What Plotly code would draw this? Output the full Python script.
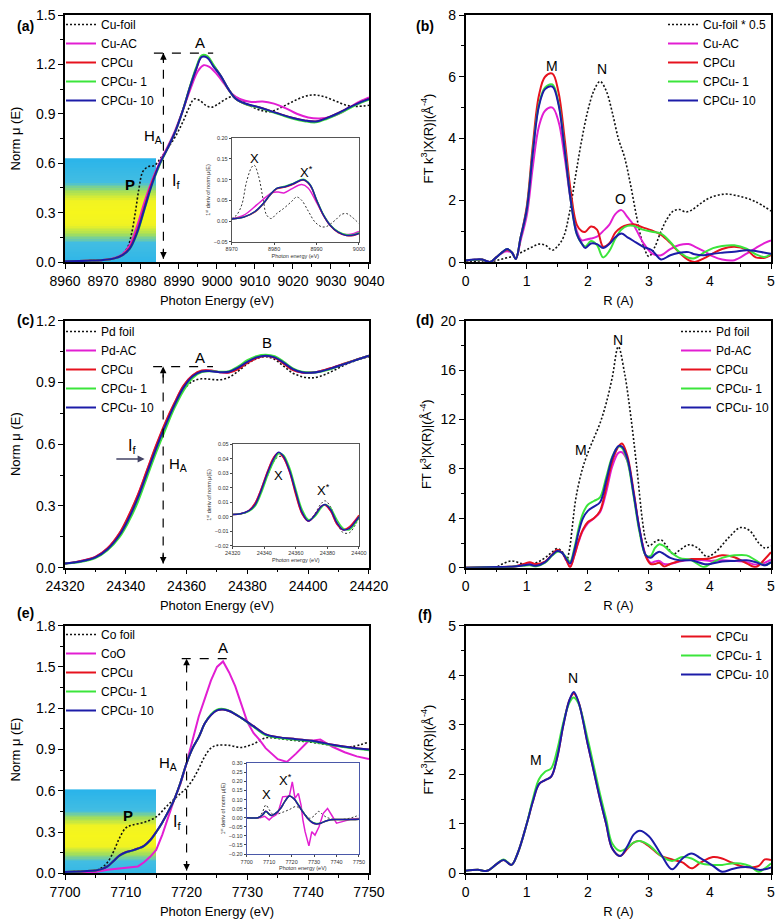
import numpy as np
import plotly.graph_objects as go

FONT = "Arial, 'Liberation Sans', Helvetica, sans-serif"
C_FOIL = "#111111"
C_MAG = "#E21ED2"
C_RED = "#E6121E"
C_GRN = "#3BE53B"
C_BLU = "#1C1CA8"
DOT = "2px,2px"

# ---------------- panel (a): Cu K-edge XANES ----------------
E_a_foil = [8960, 8966, 8970, 8973, 8975, 8976.5, 8977.5, 8978.5, 8979.5, 8980.5, 8982, 8983.5, 8985, 8987, 8989,
            8991, 8992.5, 8994, 8995.5, 8997, 8998.5, 9000, 9002, 9004, 9006, 9009, 9012, 9014, 9017, 9020,
            9023, 9025.5, 9028, 9031, 9034, 9037, 9040]
a_foil = [0.005, 0.008, 0.012, 0.025, 0.045, 0.09, 0.17, 0.3, 0.45, 0.55, 0.58, 0.585, 0.625, 0.69, 0.76,
          0.85, 0.93, 0.99, 0.98, 0.952, 0.94, 0.955, 0.985, 1.005, 0.99, 0.945, 0.918, 0.913, 0.94, 0.975,
          1.005, 1.015, 1.005, 0.98, 0.952, 0.945, 0.952]
E_a_ac = [8960, 8966, 8970, 8973, 8975, 8977, 8979, 8981, 8983, 8985, 8987, 8989, 8991, 8993, 8995, 8996.5,
          8998, 9000, 9002, 9004, 9006, 9009, 9012, 9015, 9018, 9021, 9024, 9027, 9030, 9033, 9036, 9038, 9040]
a_ac = [0.005, 0.008, 0.012, 0.025, 0.045, 0.1, 0.22, 0.37, 0.5, 0.61, 0.7, 0.8, 0.92, 1.05, 1.16, 1.195,
        1.185, 1.14, 1.08, 1.02, 0.99, 0.972, 0.975, 0.962, 0.935, 0.9, 0.878, 0.872, 0.882, 0.91, 0.955, 0.98, 1.0]
E_a = [8960, 8966, 8970, 8973, 8975, 8977, 8979, 8981, 8983, 8985, 8987, 8989, 8991, 8993, 8994.5, 8996,
       8997.5, 8999, 9001, 9003, 9005, 9008, 9011, 9014, 9017, 9020, 9023, 9026, 9029, 9032, 9035, 9038, 9040]
a_cpcu = [0.005, 0.008, 0.012, 0.022, 0.04, 0.085, 0.19, 0.34, 0.49, 0.6, 0.69, 0.79, 0.92, 1.07, 1.17, 1.25,
          1.245, 1.195, 1.13, 1.05, 0.99, 0.955, 0.94, 0.918, 0.895, 0.875, 0.86, 0.853, 0.875, 0.905, 0.94, 0.972, 0.99]
a_cpcu1 = [0.005, 0.008, 0.012, 0.022, 0.04, 0.078, 0.175, 0.325, 0.475, 0.595, 0.69, 0.79, 0.92, 1.075, 1.18,
           1.255, 1.25, 1.2, 1.13, 1.05, 0.99, 0.955, 0.938, 0.915, 0.892, 0.87, 0.855, 0.848, 0.87, 0.9, 0.935, 0.968, 0.985]
a_cpcu10 = [0.005, 0.008, 0.012, 0.022, 0.04, 0.08, 0.18, 0.33, 0.48, 0.6, 0.69, 0.79, 0.92, 1.07, 1.17, 1.245,
            1.24, 1.19, 1.13, 1.05, 0.99, 0.958, 0.94, 0.918, 0.895, 0.875, 0.86, 0.853, 0.875, 0.905, 0.94, 0.972, 0.99]

# inset (a): first derivative
E_ia_foil = [8970, 8971.2, 8972.4, 8973.5, 8974.7, 8975.3, 8976.3, 8977.5, 8978.2, 8979.3, 8980.6, 8982.2,
             8984.1, 8985.3, 8986.5, 8988.1, 8989.6, 8991.2, 8992.4, 8994.4, 8995.9, 8997.1, 8998.3, 9000]
ia_foil = [0.006, 0.015, 0.04, 0.095, 0.13, 0.135, 0.11, 0.047, 0.015, 0.006, 0.018, 0.03, 0.047, 0.058, 0.05,
           0.023, -0.002, -0.014, -0.013, 0.002, 0.016, 0.018, 0.01, -0.006]
E_ia_ac = [8970, 8973, 8975.9, 8978.2, 8979.6, 8981, 8982.3, 8984, 8986.5, 8988, 8990, 8992, 8994, 8996, 8998, 9000]
ia_ac = [0.005, 0.015, 0.039, 0.059, 0.069, 0.07, 0.068, 0.077, 0.088, 0.08, 0.045, 0.008, -0.018, -0.031, -0.032, -0.025]
E_ia = [8970, 8973, 8975.5, 8977.5, 8979, 8980.6, 8982.6, 8984.5, 8986.9, 8988.5, 8990, 8991.6, 8993.2, 8995.1,
        8997.1, 8998.7, 9000]
ia_cpcu = [0.005, 0.01, 0.022, 0.042, 0.062, 0.078, 0.082, 0.089, 0.099, 0.086, 0.05, 0.014, -0.011, -0.028, -0.035, -0.035, -0.03]
ia_cpcu1 = [0.005, 0.01, 0.023, 0.043, 0.063, 0.079, 0.084, 0.091, 0.101, 0.088, 0.052, 0.016, -0.009, -0.026, -0.033, -0.033, -0.028]
ia_cpcu10 = [0.005, 0.01, 0.023, 0.043, 0.063, 0.079, 0.083, 0.09, 0.1, 0.087, 0.051, 0.015, -0.01, -0.027, -0.035, -0.034, -0.03]

# ---------------- panel (b): Cu FT-EXAFS ----------------
R_b_foil = [0, 0.2, 0.3, 0.4, 0.5, 0.6, 0.7, 0.8, 0.9, 1.0, 1.1, 1.2, 1.3, 1.42, 1.5, 1.6, 1.7, 1.8, 1.9, 2.0,
            2.1, 2.2, 2.3, 2.4, 2.5, 2.6, 2.7, 2.8, 2.9, 3.0, 3.1, 3.2, 3.3, 3.4, 3.5, 3.6, 3.7, 3.85, 4.0, 4.25,
            4.5, 4.75, 5.0]
b_foil = [0.02, 0.03, 0.03, 0.0, 0.05, 0.1, 0.15, 0.2, 0.3, 0.4, 0.5, 0.58, 0.55, 0.38, 0.5, 0.8, 1.6, 2.8, 3.95, 4.9,
          5.55, 5.85, 5.55, 4.85, 4.0, 3.4, 2.5, 1.46, 0.6, 0.18, 0.5, 1.0, 1.4, 1.65, 1.7, 1.62, 1.68, 1.9, 2.08, 2.2,
          2.12, 1.95, 1.65]
R_b = [0, 0.15, 0.27, 0.4, 0.5, 0.6, 0.68, 0.76, 0.82, 0.9, 1.0, 1.1, 1.2, 1.3, 1.42, 1.52, 1.62, 1.72, 1.82, 1.9,
       1.96, 2.05, 2.15, 2.25, 2.35, 2.45, 2.55, 2.65, 2.75, 2.9, 3.05, 3.2, 3.35, 3.5, 3.65, 3.75, 3.9, 4.05, 4.2,
       4.4, 4.6, 4.75, 4.9, 5.0]
b_ac = [0.05, 0.07, 0.08, 0.0, 0.15, 0.3, 0.35, 0.3, 0.1, 0.7, 1.5, 3.1, 4.4, 4.9, 5.0, 4.55, 3.4, 2.0, 1.0,
        0.7, 0.72, 0.76, 0.82, 1.0, 1.2, 1.55, 1.68, 1.45, 1.2, 0.65, 0.28, 0.22, 0.42, 0.55, 0.58, 0.5, 0.35, 0.18,
        0.08, 0.06, 0.27, 0.45, 0.62, 0.7]
b_cpcu = [0.05, 0.07, 0.08, 0.0, 0.15, 0.32, 0.4, 0.3, 0.1, 0.8, 1.8, 3.8, 5.4, 6.0, 6.1, 5.5, 4.0, 2.3, 1.2,
          1.0, 0.98, 1.15, 1.05, 0.5, 0.6, 0.95, 1.12, 1.2, 1.22, 1.12, 1.02, 0.88, 0.62, 0.3, 0.06, 0.0, 0.12, 0.28,
          0.42, 0.49, 0.4, 0.15, 0.14, 0.22]
b_cpcu1 = [0.05, 0.07, 0.08, 0.0, 0.15, 0.32, 0.42, 0.3, 0.1, 0.8, 1.7, 3.6, 5.1, 5.65, 5.75, 5.15, 3.7, 2.0, 0.9,
           0.6, 0.5, 0.68, 0.55, 0.15, 0.35, 0.75, 1.05, 1.17, 1.17, 1.05, 0.98, 0.92, 0.65, 0.32, 0.14, 0.12, 0.3,
           0.45, 0.52, 0.54, 0.43, 0.25, 0.16, 0.27]
b_cpcu10 = [0.05, 0.08, 0.08, 0.0, 0.15, 0.32, 0.42, 0.3, 0.1, 0.8, 1.7, 3.55, 5.05, 5.6, 5.68, 5.1, 3.65, 2.0, 0.9,
            0.6, 0.45, 0.6, 0.58, 0.45, 0.58, 0.8, 0.92, 0.8, 0.68, 0.5, 0.38, 0.08, 0.22, 0.3, 0.32, 0.25, 0.22,
            0.27, 0.3, 0.33, 0.38, 0.36, 0.3, 0.27]

# ---------------- panel (c): Pd K-edge XANES ----------------
E_c = [24320, 24325, 24330, 24334, 24338, 24341, 24344, 24347, 24350, 24353, 24356, 24359, 24362, 24365, 24368,
       24371, 24374, 24377, 24380, 24383, 24386, 24389, 24392, 24395, 24398, 24401, 24404, 24408, 24412, 24416, 24420]
c_foil = [0.02, 0.03, 0.05, 0.09, 0.16, 0.24, 0.34, 0.46, 0.58, 0.69, 0.79, 0.865, 0.905, 0.918, 0.915, 0.913,
          0.925, 0.955, 0.99, 1.015, 1.025, 1.012, 0.978, 0.945, 0.928, 0.922, 0.93, 0.955, 0.985, 1.008, 1.025]
c_ac = [0.02, 0.032, 0.052, 0.094, 0.168, 0.252, 0.352, 0.472, 0.592, 0.7, 0.797, 0.882, 0.933, 0.956, 0.957, 0.95,
        0.95, 0.968, 0.998, 1.02, 1.03, 1.022, 0.992, 0.962, 0.948, 0.947, 0.954, 0.971, 0.991, 1.011, 1.03]
c_cpcu = [0.02, 0.032, 0.053, 0.095, 0.17, 0.255, 0.355, 0.475, 0.595, 0.705, 0.8, 0.885, 0.935, 0.958, 0.958, 0.95,
          0.948, 0.965, 0.995, 1.018, 1.028, 1.02, 0.99, 0.96, 0.948, 0.948, 0.955, 0.972, 0.992, 1.012, 1.03]
c_cpcu1 = [0.02, 0.028, 0.047, 0.085, 0.15, 0.225, 0.32, 0.44, 0.56, 0.67, 0.775, 0.86, 0.922, 0.95, 0.955, 0.952,
           0.955, 0.978, 1.008, 1.028, 1.035, 1.028, 1.0, 0.968, 0.952, 0.948, 0.952, 0.968, 0.99, 1.01, 1.03]
c_cpcu10 = [0.02, 0.03, 0.05, 0.09, 0.16, 0.24, 0.34, 0.46, 0.58, 0.69, 0.79, 0.875, 0.93, 0.953, 0.955, 0.95,
            0.952, 0.972, 1.0, 1.022, 1.03, 1.022, 0.995, 0.965, 0.95, 0.947, 0.953, 0.97, 0.99, 1.01, 1.03]

E_ic = [24320, 24325, 24330, 24334, 24338, 24342, 24346, 24349, 24352, 24356, 24360, 24364, 24368, 24372, 24376,
        24378.5, 24382, 24386, 24390, 24394, 24398, 24400]
ic_foil = [0.0015, 0.002, 0.004, 0.008, 0.017, 0.028, 0.038, 0.0415, 0.041, 0.033, 0.018, 0.003, -0.003, 0.002,
           0.009, 0.011, 0.007, -0.004, -0.011, -0.011, -0.005, -0.001]
ic_ac = [0.0015, 0.002, 0.004, 0.009, 0.019, 0.031, 0.041, 0.0442, 0.0412, 0.031, 0.016, 0.002, -0.003, 0.001,
         0.007, 0.008, 0.004, -0.005, -0.009, -0.007, -0.002, 0.0]
ic_cpcu = [0.0015, 0.002, 0.004, 0.009, 0.019, 0.031, 0.041, 0.044, 0.041, 0.031, 0.015, 0.002, -0.003, 0.001,
           0.007, 0.008, 0.004, -0.005, -0.009, -0.007, -0.002, 0.001]
ic_cpcu1 = [0.0015, 0.002, 0.0035, 0.007, 0.016, 0.028, 0.038, 0.0435, 0.0428, 0.034, 0.019, 0.005, -0.002, 0.0,
            0.006, 0.0085, 0.006, -0.002, -0.008, -0.009, -0.004, 0.0]
ic_cpcu10 = [0.0015, 0.002, 0.004, 0.008, 0.018, 0.03, 0.04, 0.0445, 0.042, 0.032, 0.017, 0.003, -0.003, 0.001,
             0.007, 0.0085, 0.005, -0.004, -0.009, -0.008, -0.003, 0.0]

# ---------------- panel (d): Pd FT-EXAFS ----------------
R_d_foil = [0, 0.3, 0.5, 0.6, 0.75, 0.9, 1.0, 1.1, 1.2, 1.3, 1.4, 1.5, 1.58, 1.65, 1.7, 1.75, 1.8, 1.9, 2.0, 2.1,
            2.2, 2.3, 2.4, 2.5, 2.6, 2.7, 2.8, 2.9, 2.95, 3.0, 3.1, 3.2, 3.3, 3.4, 3.5, 3.65, 3.8, 3.95, 4.1, 4.3,
            4.5, 4.65, 4.8, 4.9, 5.0]
d_foil = [0.0, 0.0, 0.05, 0.3, 0.55, 0.35, 0.2, 0.3, 0.5, 0.8, 1.2, 1.55, 1.3, 0.6, 1.5, 3.5, 5.5, 7.8, 9.3, 10.5,
          11.7, 13.3, 15.4, 17.9, 15.8, 12.4, 8.2, 3.6, 2.2, 1.75, 2.1, 2.25, 1.7, 1.1, 1.4, 1.85, 1.6, 0.9, 1.3, 2.4,
          3.25, 3.0, 2.0, 1.6, 1.75]
R_d = [0, 0.5, 0.8, 0.95, 1.05, 1.15, 1.3, 1.42, 1.5, 1.58, 1.65, 1.71, 1.78, 1.85, 1.92, 2.0, 2.1, 2.2, 2.3, 2.4,
       2.5, 2.56, 2.65, 2.75, 2.85, 2.95, 3.03, 3.1, 3.17, 3.25, 3.35, 3.5, 3.7, 3.9, 4.0, 4.2, 4.4, 4.6, 4.75, 4.9, 5.0]
d_ac = [0.0, 0.05, 0.1, 0.25, 0.35, 0.25, 0.45, 1.05, 1.4, 1.2, 0.6, 0.1, 1.0, 2.1, 3.0, 3.6, 4.0, 4.5, 6.1, 8.2,
        9.3, 9.35, 8.6, 6.0, 3.0, 1.0, 0.4, 0.5, 0.55, 0.3, 0.3, 0.5, 0.65, 0.6, 0.55, 0.6, 0.55, 0.45, 0.25, 0.4, 0.65]
d_cpcu = [0.0, 0.05, 0.1, 0.3, 0.45, 0.3, 0.5, 1.1, 1.45, 1.2, 0.6, 0.05, 1.0, 2.2, 3.1, 3.7, 4.0, 4.6, 6.5, 8.6,
          9.8, 10.05, 9.0, 6.2, 3.0, 0.9, 0.3, 0.3, 0.4, 0.1, 0.3, 0.55, 0.7, 0.7, 0.75, 1.0, 0.85, 0.35, 0.05, 0.7, 1.25]
d_cpcu1 = [0.0, 0.05, 0.1, 0.15, 0.2, 0.1, 0.4, 1.0, 1.3, 1.2, 0.8, 0.5, 1.6, 3.2, 4.4, 5.1, 5.4, 5.7, 7.3, 9.0,
           9.8, 9.7, 8.6, 5.8, 2.8, 1.0, 0.95, 1.6, 1.9, 1.75, 1.3, 0.8, 0.6, 0.05, 0.3, 0.8, 1.0, 1.0, 0.6, 0.2, 0.45]
d_cpcu10 = [0.0, 0.05, 0.1, 0.2, 0.25, 0.15, 0.45, 1.05, 1.35, 1.2, 0.7, 0.35, 1.4, 2.9, 4.0, 4.6, 4.95, 5.3, 7.0,
            8.9, 9.85, 9.8, 8.8, 6.0, 3.0, 1.0, 0.8, 1.1, 1.3, 1.1, 0.8, 0.6, 0.6, 0.3, 0.3, 0.5, 0.55, 0.6, 0.45, 0.2, 0.45]

# ---------------- panel (e): Co K-edge XANES ----------------
E_e_foil = [7700, 7703, 7705, 7706, 7707, 7708, 7709, 7710, 7711, 7713, 7715, 7717, 7719, 7720, 7721, 7722, 7723,
            7724, 7725, 7727, 7729, 7731, 7733, 7735, 7738, 7741, 7744, 7747, 7750]
e_foil = [0.01, 0.015, 0.02, 0.04, 0.08, 0.16, 0.26, 0.33, 0.35, 0.37, 0.41, 0.5, 0.58, 0.62, 0.68, 0.76, 0.85,
          0.91, 0.93, 0.93, 0.915, 0.94, 0.985, 0.98, 0.965, 0.95, 0.93, 0.92, 0.955]
E_e_coo = [7700, 7705, 7707, 7708, 7710, 7712, 7713, 7714, 7715, 7716, 7717, 7718, 7719, 7720, 7721, 7722, 7723,
           7724, 7725, 7726, 7727, 7728, 7729, 7730, 7731, 7732, 7733, 7735, 7736.5, 7738, 7740, 7742, 7744, 7746, 7748, 7750]
e_coo = [0.005, 0.01, 0.025, 0.03, 0.04, 0.05, 0.08, 0.12, 0.17, 0.28, 0.41, 0.54, 0.65, 0.8, 0.97, 1.14, 1.27, 1.4,
         1.5, 1.54, 1.46, 1.36, 1.23, 1.1, 1.02, 0.97, 0.91, 0.83, 0.81, 0.87, 0.96, 0.972, 0.92, 0.88, 0.85, 0.83]
E_e = [7700, 7703, 7705, 7706, 7707, 7708, 7709, 7710, 7711, 7712, 7713, 7714, 7715, 7716, 7717, 7718, 7719, 7720,
       7721, 7722, 7723, 7724, 7725, 7726, 7727, 7729, 7731, 7733, 7735, 7738, 7741, 7744, 7747, 7750]
e_cpcu = [0.01, 0.015, 0.02, 0.03, 0.05, 0.09, 0.13, 0.153, 0.165, 0.18, 0.2, 0.24, 0.3, 0.37, 0.45, 0.54, 0.66, 0.8,
          0.91, 0.99, 1.09, 1.15, 1.185, 1.19, 1.18, 1.13, 1.07, 1.01, 0.99, 0.975, 0.96, 0.935, 0.915, 0.9]
e_cpcu1 = [0.01, 0.015, 0.02, 0.03, 0.05, 0.09, 0.128, 0.15, 0.163, 0.178, 0.198, 0.238, 0.298, 0.368, 0.45, 0.54,
           0.66, 0.8, 0.91, 0.99, 1.09, 1.155, 1.19, 1.195, 1.183, 1.13, 1.065, 1.005, 0.985, 0.97, 0.955, 0.93, 0.91, 0.895]
e_cpcu10 = [0.01, 0.015, 0.02, 0.03, 0.05, 0.09, 0.13, 0.153, 0.165, 0.18, 0.2, 0.24, 0.3, 0.37, 0.45, 0.54, 0.66,
            0.8, 0.91, 0.99, 1.09, 1.15, 1.185, 1.19, 1.18, 1.13, 1.07, 1.01, 0.99, 0.975, 0.96, 0.935, 0.915, 0.9]

E_ie_foil = [7700, 7705, 7707, 7708.5, 7710, 7711.5, 7713, 7716, 7719, 7722, 7724, 7726, 7728, 7730, 7732, 7734,
             7736, 7740, 7745, 7748, 7750]
ie_foil = [0.0, 0.0, 0.03, 0.07, 0.045, 0.02, 0.018, 0.03, 0.045, 0.062, 0.045, 0.02, -0.003, 0.01, 0.035, 0.015,
           0.0, -0.01, -0.005, 0.005, 0.015]
E_ie_coo = [7700, 7706, 7708, 7710, 7711.5, 7713, 7714, 7715, 7716, 7718, 7719, 7720.3, 7721.5, 7723, 7724.2, 7725,
            7726, 7727.7, 7729, 7730.4, 7732.2, 7734.1, 7736, 7737.8, 7740, 7743, 7746.7, 7750]
ie_coo = [0.0, 0.0, 0.008, -0.012, 0.005, 0.015, 0.03, 0.07, 0.115, 0.118, 0.12, 0.198, 0.107, 0.134, 0.07, -0.01,
          -0.077, -0.155, -0.077, -0.096, -0.05, 0.024, 0.051, 0.015, -0.03, -0.02, -0.007, -0.004]
E_ie = [7700, 7705, 7707, 7708.5, 7710, 7711, 7713, 7715, 7717, 7719, 7721, 7723, 7725, 7727, 7729, 7731, 7733,
        7736, 7740, 7745, 7750]
ie_cpcu = [0.0, 0.0, 0.015, 0.035, 0.02, 0.012, 0.025, 0.05, 0.09, 0.12, 0.105, 0.07, 0.032, -0.002, -0.025, -0.034,
           -0.03, -0.015, -0.01, -0.01, -0.008]
ie_cpcu1 = [0.0, 0.0, 0.014, 0.033, 0.02, 0.012, 0.025, 0.05, 0.09, 0.119, 0.106, 0.072, 0.034, 0.0, -0.023, -0.032,
            -0.029, -0.015, -0.01, -0.01, -0.008]
ie_cpcu10 = [0.0, 0.0, 0.015, 0.035, 0.02, 0.012, 0.025, 0.05, 0.09, 0.12, 0.105, 0.07, 0.032, -0.002, -0.025, -0.034,
             -0.03, -0.015, -0.01, -0.01, -0.008]

# ---------------- panel (f): Co FT-EXAFS ----------------
R_f = [0, 0.2, 0.35, 0.5, 0.62, 0.75, 0.85, 1.0, 1.1, 1.2, 1.3, 1.4, 1.5, 1.6, 1.7, 1.77, 1.85, 2.0, 2.1, 2.2, 2.3,
       2.4, 2.53, 2.65, 2.75, 2.85, 3.0, 3.2, 3.38, 3.55, 3.7, 3.85, 4.05, 4.2, 4.35, 4.5, 4.65, 4.8, 4.9, 5.0]
f_cpcu = [0.05, 0.07, 0.05, 0.18, 0.27, 0.17, 0.4, 1.0, 1.45, 1.8, 1.88, 1.95, 2.35, 3.0, 3.5, 3.63, 3.45, 2.6, 2.05,
          1.5, 1.0, 0.5, 0.35, 0.5, 0.62, 0.65, 0.55, 0.35, 0.28, 0.22, 0.1, 0.22, 0.33, 0.3, 0.22, 0.15, 0.12, 0.15, 0.28, 0.27]
f_cpcu1 = [0.05, 0.07, 0.05, 0.18, 0.28, 0.17, 0.4, 1.0, 1.5, 1.9, 2.05, 2.12, 2.5, 3.05, 3.45, 3.55, 3.42, 2.7, 2.15,
           1.6, 1.1, 0.6, 0.45, 0.52, 0.62, 0.65, 0.57, 0.35, 0.25, 0.33, 0.3, 0.2, 0.17, 0.17, 0.2, 0.2, 0.15, 0.03, 0.1, 0.2]
f_cpcu10 = [0.05, 0.07, 0.05, 0.18, 0.27, 0.17, 0.4, 1.0, 1.45, 1.8, 1.88, 1.95, 2.35, 3.0, 3.5, 3.66, 3.45, 2.6, 2.05,
            1.5, 1.0, 0.5, 0.35, 0.55, 0.78, 0.86, 0.75, 0.38, 0.08, 0.3, 0.4, 0.3, 0.15, 0.03, 0.08, 0.12, 0.12, 0.07, 0.08, 0.12]

fig = go.Figure()


def add_line(x, y, color, name, xa, ya, legend=None, dash=None, width=2.0, shape="spline"):
    fig.add_trace(go.Scatter(
        x=x, y=y, mode="lines", name=name, xaxis=xa, yaxis=ya,
        line=dict(color=color, width=width, dash=dash, shape=shape),
        showlegend=legend is not None, legend=legend if legend else "legend",
        hoverinfo="skip"))


def add_gradient(x0, x1, top, center, xa, ya):
    edges = np.linspace(0, top, 64)
    mids = (edges[:-1] + edges[1:]) / 2
    z = np.abs(mids - center).reshape(-1, 1)
    fig.add_trace(go.Heatmap(
        x=[x0, x1], y=edges, z=z, xaxis=xa, yaxis=ya, showscale=False, zmin=0, zmax=0.33,
        colorscale=[[0, "#F6F61C"], [0.22, "#F1F322"], [0.4, "#A2DE5C"], [0.56, "#42BDE2"], [1, "#2AB4EA"]],
        hoverinfo="skip"))


add_gradient(8960, 8984, 0.63, 0.30, "x", "y")
add_gradient(7700, 7715, 0.61, 0.27, "x5", "y5")

# (a)
add_line(E_a_foil, a_foil, C_FOIL, "Cu-foil", "x", "y", "legend", dash=DOT, width=1.6)
add_line(E_a_ac, a_ac, C_MAG, "Cu-AC", "x", "y", "legend")
add_line(E_a, a_cpcu, C_RED, "CPCu", "x", "y", "legend")
add_line(E_a, a_cpcu1, C_GRN, "CPCu- 1", "x", "y", "legend")
add_line(E_a, a_cpcu10, C_BLU, "CPCu- 10", "x", "y", "legend")
add_line(E_ia_foil, ia_foil, "#333333", "", "x7", "y7", None, dash=DOT, width=1.0)
add_line(E_ia_ac, ia_ac, C_MAG, "", "x7", "y7", None, width=1.5)
add_line(E_ia, ia_cpcu, C_RED, "", "x7", "y7", None, width=1.5)
add_line(E_ia, ia_cpcu1, C_GRN, "", "x7", "y7", None, width=1.5)
add_line(E_ia, ia_cpcu10, C_BLU, "", "x7", "y7", None, width=1.5)

# (b)
add_line(R_b_foil, b_foil, C_FOIL, "Cu-foil * 0.5", "x2", "y2", "legend2", dash=DOT, width=1.6)
add_line(R_b, b_ac, C_MAG, "Cu-AC", "x2", "y2", "legend2")
add_line(R_b, b_cpcu, C_RED, "CPCu", "x2", "y2", "legend2")
add_line(R_b, b_cpcu1, C_GRN, "CPCu- 1", "x2", "y2", "legend2")
add_line(R_b, b_cpcu10, C_BLU, "CPCu- 10", "x2", "y2", "legend2")

# (c)
add_line(E_c, c_foil, C_FOIL, "Pd foil", "x3", "y3", "legend3", dash=DOT, width=1.6)
add_line(E_c, c_ac, C_MAG, "Pd-AC", "x3", "y3", "legend3")
add_line(E_c, c_cpcu, C_RED, "CPCu", "x3", "y3", "legend3")
add_line(E_c, c_cpcu1, C_GRN, "CPCu- 1", "x3", "y3", "legend3")
add_line(E_c, c_cpcu10, C_BLU, "CPCu- 10", "x3", "y3", "legend3")
add_line(E_ic, ic_foil, "#333333", "", "x8", "y8", None, dash=DOT, width=1.0)
add_line(E_ic, ic_ac, C_MAG, "", "x8", "y8", None, width=1.5)
add_line(E_ic, ic_cpcu, C_RED, "", "x8", "y8", None, width=1.5)
add_line(E_ic, ic_cpcu1, C_GRN, "", "x8", "y8", None, width=1.5)
add_line(E_ic, ic_cpcu10, C_BLU, "", "x8", "y8", None, width=1.5)

# (d)
add_line(R_d_foil, d_foil, C_FOIL, "Pd foil", "x4", "y4", "legend4", dash=DOT, width=1.6)
add_line(R_d, d_ac, C_MAG, "Pd-AC", "x4", "y4", "legend4")
add_line(R_d, d_cpcu, C_RED, "CPCu", "x4", "y4", "legend4")
add_line(R_d, d_cpcu1, C_GRN, "CPCu- 1", "x4", "y4", "legend4")
add_line(R_d, d_cpcu10, C_BLU, "CPCu- 10", "x4", "y4", "legend4")

# (e)
add_line(E_e_foil, e_foil, C_FOIL, "Co foil", "x5", "y5", "legend5", dash=DOT, width=1.6)
add_line(E_e_coo, e_coo, C_MAG, "CoO", "x5", "y5", "legend5", shape="linear")
add_line(E_e, e_cpcu, C_RED, "CPCu", "x5", "y5", "legend5")
add_line(E_e, e_cpcu1, C_GRN, "CPCu- 1", "x5", "y5", "legend5")
add_line(E_e, e_cpcu10, C_BLU, "CPCu- 10", "x5", "y5", "legend5")
add_line(E_ie_foil, ie_foil, "#333333", "", "x9", "y9", None, dash=DOT, width=1.0)
add_line(E_ie_coo, ie_coo, C_MAG, "", "x9", "y9", None, width=1.5, shape="linear")
add_line(E_ie, ie_cpcu, C_RED, "", "x9", "y9", None, width=1.5)
add_line(E_ie, ie_cpcu1, C_GRN, "", "x9", "y9", None, width=1.5)
add_line(E_ie, ie_cpcu10, C_BLU, "", "x9", "y9", None, width=1.5)

# (f)
add_line(R_f, f_cpcu, C_RED, "CPCu", "x6", "y6", "legend6")
add_line(R_f, f_cpcu1, C_GRN, "CPCu- 1", "x6", "y6", "legend6")
add_line(R_f, f_cpcu10, C_BLU, "CPCu- 10", "x6", "y6", "legend6")

W, H = 780, 919


def px(x):
    return x / W


def py(y):
    return 1 - y / H


EPS = 1e-6


def main_axis(dom, rng, dtick, minor, anchor, title, fmt=None, standoff=8, tsize=13):
    d = dict(domain=dom, range=[rng[0], rng[1] + EPS * max(1, abs(rng[1]))], dtick=dtick, tick0=rng[0],
             anchor=anchor, automargin=False,
             showline=True, linecolor="black", linewidth=1.5, mirror=True, showgrid=False, zeroline=False,
             ticks="outside", ticklen=5, tickwidth=1.2, tickcolor="black",
             tickfont=dict(family=FONT, size=14, color="black"),
             minor=dict(dtick=minor, ticks="outside", ticklen=3, tickwidth=1, tickcolor="black"),
             title=dict(text=title, font=dict(family=FONT, size=tsize, color="black"), standoff=standoff))
    d["tickformat"] = fmt if fmt else "d"
    return d


def inset_axis(dom, rng, dtick, anchor, title, fmt="d", standoff=2, color="#555555"):
    return dict(domain=dom, range=[rng[0], rng[1] + EPS * max(1, abs(rng[1]))], dtick=dtick, tick0=rng[0],
                anchor=anchor, automargin=False, tickformat=fmt,
                showline=True, linecolor=color, linewidth=1, mirror=True, showgrid=False, zeroline=False,
                ticks="outside", ticklen=2, tickwidth=0.8, tickcolor="#444444",
                tickfont=dict(family=FONT, size=5.5, color="#333333"),
                title=dict(text=title, font=dict(family=FONT, size=5.5, color="#333333"), standoff=standoff))


XL = [px(65), px(369)]
XR = [px(465.7), px(771)]
Y1 = [py(262), py(15)]
Y2 = [py(567.7), py(320.7)]
Y3 = [py(873.3), py(625.7)]
FT_TITLE = "FT k<sup>3</sup>|X(R)|(Å<sup>-4</sup>)"
DERIV_TITLE = "1<sup>st</sup> deriv of norm μ(E)"

layout = dict(
    width=W, height=H, margin=dict(l=0, r=0, t=0, b=0, autoexpand=False),
    paper_bgcolor="white", plot_bgcolor="white", hovermode=False,
    font=dict(family=FONT, color="black"),
    xaxis=main_axis(XL, [8960, 9040], 10, 5, "y", "Photon Energy (eV)"),
    yaxis=main_axis(Y1, [0, 1.5], 0.3, 0.15, "x", "Norm μ (E)", fmt=".1f", standoff=12),
    xaxis2=main_axis(XR, [0, 5], 1, 0.5, "y2", "R (A)"),
    yaxis2=main_axis(Y1, [0, 8], 2, 1, "x2", FT_TITLE, standoff=12),
    xaxis3=main_axis(XL, [24320, 24420], 20, 10, "y3", "Photon Energy (eV)"),
    yaxis3=main_axis(Y2, [0, 1.2], 0.3, 0.15, "x3", "Norm μ (E)", fmt=".1f", standoff=12),
    xaxis4=main_axis(XR, [0, 5], 1, 0.5, "y4", "R (A)"),
    yaxis4=main_axis(Y2, [0, 20], 4, 2, "x4", FT_TITLE, standoff=6),
    xaxis5=main_axis(XL, [7700, 7750], 10, 5, "y5", "Photon Energy (eV)"),
    yaxis5=main_axis(Y3, [0, 1.8], 0.3, 0.15, "x5", "Norm μ (E)", fmt=".1f", standoff=12),
    xaxis6=main_axis(XR, [0, 5], 1, 0.5, "y6", "R (A)"),
    yaxis6=main_axis(Y3, [0, 5], 1, 0.5, "x6", FT_TITLE, standoff=12),
    xaxis7=inset_axis([px(231.7), px(359)], [8970, 9000], 10, "y7", "Photon energy (eV)"),
    yaxis7=inset_axis([py(241.7), py(138.3)], [-0.05, 0.20], 0.05, "x7", DERIV_TITLE, fmt=".2f"),
    xaxis8=inset_axis([px(232.7), px(359)], [24320, 24400], 20, "y8", "Photon energy (eV)"),
    yaxis8=inset_axis([py(545.7), py(444.3)], [-0.02, 0.05], 0.01, "x8", DERIV_TITLE, fmt=".2f"),
    xaxis9=inset_axis([px(246.7), px(359)], [7700, 7750], 10, "y9", "Photon energy (eV)", color="#4A58A8"),
    yaxis9=inset_axis([py(854), py(763.3)], [-0.20, 0.30], 0.05, "x9", DERIV_TITLE, fmt=".2f", color="#4A58A8"),
)


def legend_at(x_px, y_px, anchor="left"):
    return dict(x=px(x_px), y=py(y_px), xanchor=anchor, yanchor="top", bgcolor="rgba(0,0,0,0)",
                font=dict(family=FONT, size=12, color="black"), itemwidth=30, tracegroupgap=0,
                borderwidth=0)


layout["legend"] = legend_at(61, 10)
layout["legend2"] = legend_at(772, 10, "right")
layout["legend3"] = legend_at(61, 317)
layout["legend4"] = legend_at(775, 317, "right")
layout["legend5"] = legend_at(61, 620)
layout["legend6"] = legend_at(775, 622, "right")
fig.update_layout(**layout)

anns = []
shapes = []


def label(text, x, y, xa, ya, size=14, bold=False):
    t = "<b>%s</b>" % text if bold else text
    anns.append(dict(text=t, x=x, y=y, xref=xa, yref=ya, showarrow=False,
                     font=dict(family=FONT, size=size, color="black")))


def dashed(x0, y0, x1, y1, xa, ya):
    shapes.append(dict(type="line", x0=x0, y0=y0, x1=x1, y1=y1, xref=xa, yref=ya,
                       line=dict(color="black", width=1.2, dash="dash")))


def vert_arrow(x, top, bot, xa, ya, span):
    dashed(x, bot, x, top, xa, ya)
    for tip, tail in ((top, top - span), (bot, bot + span)):
        anns.append(dict(x=x, y=tip, ax=x, ay=tail, xref=xa, yref=ya, axref=xa, ayref=ya, text="",
                         showarrow=True, arrowhead=2, arrowsize=1.1, arrowwidth=1.2, arrowcolor="black"))


for t, xx, yy in (("(a)", 15, 16), ("(b)", 425, 16), ("(c)", 15, 320), ("(d)", 425, 320),
                  ("(e)", 15, 623), ("(f)", 425, 625)):
    anns.append(dict(text="<b>%s</b>" % t, x=px(xx), y=py(yy), xref="paper", yref="paper", showarrow=False,
                     font=dict(family=FONT, size=14, color="black")))

# (a)
dashed(8983.4, 1.269, 8999, 1.269, "x", "y")
vert_arrow(8985.9, 1.269, 0.02, "x", "y", 0.07)
label("A", 8995.5, 1.33, "x", "y", 15)
label("H<sub>A</sub>", 8983.2, 0.76, "x", "y", 15)
label("I<sub>f</sub>", 8989.3, 0.49, "x", "y", 16)
label("P", 8977.1, 0.47, "x", "y", 15, bold=True)
label("X", 8975.3, 0.152, "x7", "y7", 13)
label("X<sup>*</sup>", 8987.7, 0.119, "x7", "y7", 13)

# (b)
label("M", 1.41, 6.35, "x2", "y2", 14)
label("N", 2.23, 6.25, "x2", "y2", 14)
label("O", 2.53, 2.05, "x2", "y2", 14)

# (c)
dashed(24349, 0.977, 24368.7, 0.977, "x3", "y3")
vert_arrow(24352.3, 0.977, 0.02, "x3", "y3", 0.06)
label("A", 24364.4, 1.02, "x3", "y3", 15)
label("B", 24386.3, 1.095, "x3", "y3", 15)
label("H<sub>A</sub>", 24357.2, 0.5, "x3", "y3", 15)
label("I<sub>f</sub>", 24341.9, 0.59, "x3", "y3", 16)
anns.append(dict(x=24346.2, y=0.528, ax=24336.4, ay=0.528, xref="x3", yref="y3", axref="x3", ayref="y3",
                 text="", showarrow=True, arrowhead=2, arrowsize=1, arrowwidth=1.4, arrowcolor="#444466"))
label("X", 24348.9, 0.0288, "x8", "y8", 13)
label("X<sup>*</sup>", 24377.4, 0.0184, "x8", "y8", 13)

# (d)
label("N", 2.5, 18.45, "x4", "y4", 14)
label("M", 1.89, 9.5, "x4", "y4", 14)

# (e)
dashed(7719.2, 1.56, 7727.4, 1.56, "x5", "y5")
vert_arrow(7720, 1.56, 0.02, "x5", "y5", 0.08)
label("A", 7726, 1.64, "x5", "y5", 15)
label("H<sub>A</sub>", 7717, 0.8, "x5", "y5", 15)
label("I<sub>f</sub>", 7718.5, 0.37, "x5", "y5", 16)
label("P", 7710.3, 0.42, "x5", "y5", 15, bold=True)
label("X", 7708.9, 0.129, "x9", "y9", 13)
label("X<sup>*</sup>", 7717.1, 0.21, "x9", "y9", 13)

# (f)
label("N", 1.76, 3.94, "x6", "y6", 14)
label("M", 1.15, 2.28, "x6", "y6", 14)

fig.update_layout(annotations=anns, shapes=shapes)
fig.write_html("out.html", config={"displayModeBar": False},
               post_script="document.body.style.margin='0px';document.body.style.overflow='hidden';")
